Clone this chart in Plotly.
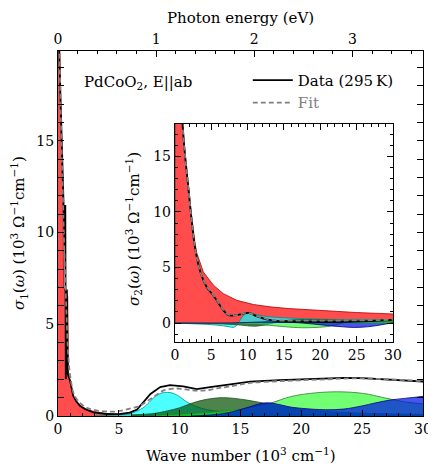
"""Optical conductivity of PdCoO2 (E||ab) with Drude-Lorentz fit components."""

import plotly.graph_objects as go

CM_PER_EV = 8.06554  # 10^3 cm^-1 per eV

# --- sigma_1 (main panel), x in 10^3 cm^-1, y in 10^3 Ohm^-1 cm^-1 ---
data1_x = [0.02, 0.1, 0.2, 0.3, 0.4, 0.5, 0.56, 0.6, 0.64, 0.7, 0.73, 0.8,
           0.9, 1.0, 1.25, 1.5, 1.8, 2.2, 2.9, 4.0, 5.0, 5.9, 6.5, 7.0, 7.6,
           8.4, 9.2, 10.3, 11.4, 12.5, 14.1, 15.8, 18.2, 20, 22, 23.5, 25,
           27, 30]
data1_y = [21, 20, 17.5, 15, 12.5, 10, 9.2, 11.5, 2.0, 4.0, 6.9, 2.3, 2.1,
           1.9, 1.1, 0.8, 0.55, 0.38, 0.2, 0.1, 0.1, 0.18, 0.35, 0.75, 1.2,
           1.58, 1.68, 1.62, 1.47, 1.58, 1.74, 1.87, 1.96, 2.0, 2.05, 2.08,
           2.06, 1.98, 1.88]

fit1_x = [0.0, 0.15, 0.3, 0.4, 0.5, 0.6, 0.7, 0.8, 0.9, 1.0, 1.25, 1.5, 2.0,
          2.5, 3.0, 4.0, 4.8, 5.9, 6.7, 7.3, 8.0, 8.65, 9.75, 10.5, 11.4,
          12.2, 13.0, 14.0, 15.8, 18.2, 20, 22, 24, 26, 28, 30]
fit1_y = [25, 19, 14.5, 12, 9.5, 7.5, 5.5, 3.8, 2.8, 2.2, 1.3, 0.95, 0.6,
          0.42, 0.32, 0.25, 0.25, 0.4, 0.55, 0.8, 1.1, 1.38, 1.5, 1.45, 1.38,
          1.4, 1.5, 1.6, 1.8, 1.9, 1.95, 2.0, 2.05, 2.03, 1.97, 1.9]

red1_x = [0, 0.15, 0.3, 0.42, 0.46, 0.6, 0.8, 0.86, 1.0, 1.25, 1.5, 2.0, 2.5,
          3.0, 4.0, 5.0, 7.0, 10, 15, 20, 25, 30]
red1_y = [25, 19, 14, 11.5, 7.0, 6.8, 6.5, 2.3, 1.8, 1.1, 0.8, 0.5, 0.33,
          0.24, 0.14, 0.09, 0.05, 0.03, 0.015, 0.01, 0.007, 0.005]

cyan1_x = [3, 5, 6, 7, 7.5, 8, 8.5, 9, 9.5, 10, 10.5, 11, 12, 13, 14, 16, 18,
           20, 25, 30]
cyan1_y = [0.02, 0.06, 0.15, 0.45, 0.75, 1.08, 1.25, 1.29, 1.23, 1.05, 0.8,
           0.62, 0.38, 0.27, 0.2, 0.14, 0.1, 0.08, 0.05, 0.04]

dkgreen1_x = [6, 8, 9, 10, 11, 12, 13, 13.6, 14.5, 15.5, 16.5, 17.7, 19, 21,
              24, 27, 30]
dkgreen1_y = [0.05, 0.15, 0.28, 0.45, 0.7, 0.88, 0.98, 1.0, 0.96, 0.87, 0.75,
              0.6, 0.45, 0.3, 0.18, 0.12, 0.09]

ltgreen1_x = [8, 10, 12, 14, 15.5, 17.4, 19.1, 20.7, 22.9, 25.1, 26.7, 28.4,
              30]
ltgreen1_y = [0.05, 0.1, 0.18, 0.3, 0.42, 0.69, 1.05, 1.23, 1.32, 1.23, 1.01,
              0.78, 0.66]

blue1_x = [11, 12, 13, 14, 15.5, 16.5, 17.2, 18, 19, 20, 22, 23.5, 25, 26,
           27.3, 28.5, 30]
blue1_y = [0.0, 0.03, 0.08, 0.18, 0.45, 0.65, 0.72, 0.65, 0.5, 0.42, 0.34,
           0.38, 0.55, 0.7, 0.87, 0.96, 1.07]

# --- sigma_2 (inset) ---
data2_x = [0.8, 1.05, 1.38, 1.83, 2.3, 2.75, 3.44, 4.36, 5.0, 5.73, 6.65,
           7.34, 8.0, 8.5, 9.3, 10.1, 11.2, 12.6, 14, 16, 18, 20, 22, 24, 26,
           28, 30]
data2_y = [21, 17.7, 15.1, 12.2, 9.2, 6.8, 4.7, 3.24, 2.7, 2.05, 1.16, 0.71,
           0.68, 0.71, 0.82, 0.92, 0.63, 0.33, 0.2, 0.15, 0.12, 0.1, 0.1,
           0.12, 0.16, 0.22, 0.28]

fit2_x = [0.8, 1.05, 1.38, 1.83, 2.3, 2.75, 3.44, 4.36, 5.0, 5.73, 6.65, 7.34,
          8.0, 8.5, 9.3, 10.1, 11.2, 12.6, 14, 16, 18, 20, 22, 24, 26, 28, 30]
fit2_y = [21, 17.7, 15.1, 12.2, 9.2, 6.8, 4.7, 3.3, 2.75, 2.1, 1.2, 0.75, 0.7,
          0.72, 0.85, 0.9, 0.65, 0.38, 0.25, 0.22, 0.22, 0.22, 0.23, 0.24,
          0.25, 0.27, 0.3]

red2_x = [0, 0.1, 0.5, 1.0, 1.38, 1.83, 2.3, 2.75, 3.0, 3.9, 5.3, 6.65, 8.5,
          10.8, 13.1, 15.6, 20, 25, 30]
red2_y = [0, 60, 35, 19, 15.3, 12.4, 9.6, 7.2, 6.3, 4.6, 3.4, 2.65, 2.05,
          1.67, 1.46, 1.31, 1.12, 0.95, 0.82]

cyan2_x = [0, 2, 4, 6, 7, 7.6, 8.0, 8.5, 9.0, 9.5, 10.0, 10.5, 11.5, 13, 15,
           18, 22, 26, 30]
cyan2_y = [0, -0.05, -0.1, -0.2, -0.28, -0.35, -0.39, -0.2, 0.3, 0.75, 0.93,
           0.9, 0.72, 0.57, 0.48, 0.4, 0.33, 0.33, 0.32]

dkgreen2_x = [0, 5, 8, 9, 10, 10.5, 11.5, 12.5, 13.5, 14.5, 16, 18, 20, 24, 30]
dkgreen2_y = [0, -0.05, -0.12, -0.18, -0.24, -0.27, -0.25, -0.15, 0.0, 0.15,
              0.28, 0.32, 0.3, 0.25, 0.2]

ltgreen2_x = [0, 8, 11, 13, 15, 17.5, 19, 20.7, 22, 23, 24, 26, 28, 30]
ltgreen2_y = [0, -0.05, -0.12, -0.2, -0.32, -0.42, -0.4, -0.33, -0.18, 0.0,
              0.12, 0.25, 0.28, 0.28]

blue2_x = [0, 8, 11, 13, 15, 17, 19, 21, 23, 24.7, 26.5, 28, 29, 30]
blue2_y = [0, 0.02, 0.08, 0.12, 0.1, 0.03, -0.08, -0.22, -0.33, -0.39, -0.33,
           -0.2, -0.08, 0.02]

# fill colour, edge colour, line shape
COMPONENT_STYLE = {
    'red': ('rgba(255,0,0,0.7)', '#b00000', 'linear'),
    'cyan': ('rgba(0,255,255,0.7)', '#008b8b', 'spline'),
    'dkgreen': ('rgba(0,80,0,0.7)', '#1e4d1e', 'spline'),
    'ltgreen': ('rgba(0,255,0,0.55)', '#2e7d2e', 'spline'),
    'blue': ('rgba(0,20,230,0.72)', '#000080', 'spline'),
}

FONT = 'DejaVu Serif'
TICK_SIZE = 14
TITLE_SIZE = 15


def add_component(fig, x, y, key, xaxis, yaxis):
  fill, edge, shape = COMPONENT_STYLE[key]
  fig.add_trace(go.Scatter(
      x=x, y=y, mode='lines', fill='tozeroy', fillcolor=fill,
      line=dict(color=edge, width=0.8, shape=shape),
      xaxis=xaxis, yaxis=yaxis, showlegend=False, hoverinfo='skip'))


def label(text, x, y, angle=0, xanchor='center'):
  return dict(text=text, xref='paper', yref='paper', x=x, y=y,
              xanchor=xanchor, yanchor='middle', textangle=angle,
              showarrow=False,
              font=dict(family=FONT, size=TITLE_SIZE, color='black'))


def make_figure():
  fig = go.Figure()

  # main panel components
  add_component(fig, red1_x, red1_y, 'red', 'x', 'y')
  add_component(fig, cyan1_x, cyan1_y, 'cyan', 'x', 'y')
  add_component(fig, dkgreen1_x, dkgreen1_y, 'dkgreen', 'x', 'y')
  add_component(fig, ltgreen1_x, ltgreen1_y, 'ltgreen', 'x', 'y')
  add_component(fig, blue1_x, blue1_y, 'blue', 'x', 'y')

  fig.add_trace(go.Scatter(
      x=data1_x, y=data1_y, mode='lines', name='Data (295\u2009K)',
      line=dict(color='black', width=1.8)))
  fig.add_trace(go.Scatter(
      x=fit1_x, y=fit1_y, mode='lines',
      name='<span style="color:#808080">Fit</span>',
      line=dict(color='#808080', width=1.8, dash='5px,3px', shape='spline')))

  # empty trace so the top (eV) axis is drawn
  fig.add_trace(go.Scatter(x=[], y=[], xaxis='x2', yaxis='y',
                           showlegend=False, hoverinfo='skip'))

  # inset components
  add_component(fig, red2_x, red2_y, 'red', 'x3', 'y3')
  add_component(fig, cyan2_x, cyan2_y, 'cyan', 'x3', 'y3')
  add_component(fig, dkgreen2_x, dkgreen2_y, 'dkgreen', 'x3', 'y3')
  add_component(fig, ltgreen2_x, ltgreen2_y, 'ltgreen', 'x3', 'y3')
  add_component(fig, blue2_x, blue2_y, 'blue', 'x3', 'y3')

  fig.add_trace(go.Scatter(
      x=data2_x, y=data2_y, mode='lines', xaxis='x3', yaxis='y3',
      line=dict(color='black', width=1.8, shape='spline'), showlegend=False))
  fig.add_trace(go.Scatter(
      x=fit2_x, y=fit2_y, mode='lines', xaxis='x3', yaxis='y3',
      line=dict(color='#808080', width=1.8, dash='5px,3px', shape='spline'),
      showlegend=False))

  tick_common = dict(
      ticks='inside', ticklen=6, tickwidth=1, tickcolor='black',
      showline=True, linecolor='black', linewidth=1.3, showgrid=False,
      zeroline=False, automargin=False,
      tickfont=dict(family=FONT, size=TICK_SIZE, color='black'),
  )
  minor = dict(ticklen=3, ticks='inside', tickcolor='black')
  sigma_unit = ('(10<sup>3</sup> \u03a9<sup>\u22121</sup>'
                'cm<sup>\u22121</sup>)')

  # axis titles placed as annotations so their positions can be set
  titles = [
      label('Wave number (10<sup>3</sup> cm<sup>\u22121</sup>)', 0.5, -0.107),
      label('Photon energy (eV)', 0.5, 1.09),
      label('<i>\u03c3</i><sub>1</sub>(<i>\u03c9</i>) ' + sigma_unit,
            -0.108, 0.5, angle=-90),
      label('<i>\u03c3</i><sub>2</sub>(<i>\u03c9</i>) ' + sigma_unit,
            0.205, 0.512, angle=-90),
      label('PdCoO<sub>2</sub>, E||ab', 0.065, 0.915, xanchor='left'),
  ]

  # the page body adds an 8 px offset, so the figure is 8 px smaller
  fig.update_layout(
      width=428, height=460,
      margin=dict(l=50, r=13, t=43, b=52),
      plot_bgcolor='white', paper_bgcolor='white',
      font=dict(family=FONT, size=TITLE_SIZE, color='black'),
      xaxis=dict(
          range=[0, 30], dtick=5, tick0=0, minor=dict(dtick=1, **minor),
          **tick_common),
      xaxis2=dict(
          overlaying='x', side='top', anchor='y',
          range=[0, 30 / CM_PER_EV], dtick=1, tick0=0,
          minor=dict(dtick=0.2, **minor),
          **tick_common),
      yaxis=dict(
          range=[0, 19.9], dtick=5, tick0=0, mirror='allticks',
          minor=dict(dtick=1, **minor),
          **tick_common),
      xaxis3=dict(
          domain=[0.3205, 0.9178], anchor='y3',
          range=[0, 30], dtick=5, tick0=0, mirror='allticks',
          minor=dict(dtick=1, **minor),
          **tick_common),
      yaxis3=dict(
          domain=[0.2027, 0.8], anchor='x3',
          range=[-1.7, 17.9], dtick=5, tick0=0, mirror='allticks',
          minor=dict(dtick=1, **minor),
          **tick_common),
      legend=dict(
          x=0.52, y=0.965, xanchor='left', yanchor='top',
          bgcolor='rgba(0,0,0,0)', itemwidth=40, tracegroupgap=0,
          font=dict(family=FONT, size=15, color='black'),
      ),
      annotations=titles,
  )
  return fig


fig = make_figure()
fig.write_html('out.html')
